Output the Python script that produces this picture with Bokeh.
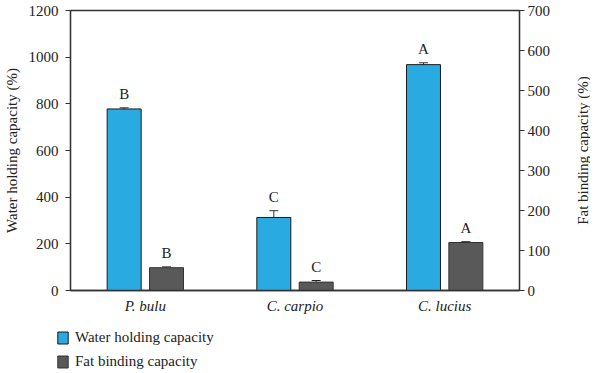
import math
from bokeh.plotting import figure
from bokeh.layouts import column, row
from bokeh.models import (ColumnDataSource, Range1d, LinearAxis, Whisker, TeeHead,
                          Legend, LegendItem, FactorRange, LabelSet)
from bokeh.transform import dodge
from bokeh.core.properties import value
from bokeh.embed import file_html
from bokeh.resources import INLINE

species = ["P. bulu", "C. carpio", "C. lucius"]
water = [778, 313, 968]
water_err = [5, 29, 8]
water_letters = ["B", "C", "A"]
fat = [57, 21, 120]
fat_err = [2, 4, 2]
fat_letters = ["B", "C", "A"]
series_names = ["Water holding capacity", "Fat binding capacity"]
left_title = "Water holding capacity (%)"
right_title = "Fat binding capacity (%)"

BLUE = "#29ABE2"
GREY = "#595959"
FONT = "Liberation Serif"

src = ColumnDataSource(dict(
    cat=species, water=water, water_hi=[w + e for w, e in zip(water, water_err)],
    fat=fat, fat_hi=[f + e for f, e in zip(fat, fat_err)],
    wl=water_letters, fl=fat_letters,
))

p = figure(x_range=FactorRange(*species, range_padding=0), y_range=Range1d(0, 1200),
           width=574, height=318, output_backend="svg", toolbar_location=None,
           min_border_left=58, min_border_right=55, min_border_top=10, min_border_bottom=28)
p.extra_y_ranges = {"fat": Range1d(0, 700)}

off = 0.1415
bw = 0.227
r1 = p.vbar(x=dodge("cat", -off, range=p.x_range), top="water", width=bw, source=src,
            fill_color=BLUE, line_color="#1a1a1a", line_width=1)
r2 = p.vbar(x=dodge("cat", off, range=p.x_range), top="fat", width=bw, source=src,
            fill_color=GREY, line_color="#333333", line_width=1, y_range_name="fat")

w1 = Whisker(base=dodge("cat", -off, range=p.x_range), lower="water", upper="water_hi",
             source=src, lower_head=None, line_color="#333333", line_width=1,
             upper_head=TeeHead(size=9, line_color="#333333", line_width=1))
w2 = Whisker(base=dodge("cat", off, range=p.x_range), lower="fat", upper="fat_hi",
             source=src, lower_head=None, line_color="#222222", line_width=1,
             upper_head=TeeHead(size=9, line_color="#222222", line_width=1),
             y_range_name="fat")
p.add_layout(w1)
p.add_layout(w2)

l1 = LabelSet(x=dodge("cat", -off, range=p.x_range), y="water_hi", text="wl", source=src,
              text_align="center", text_baseline="bottom", y_offset=6,
              text_font=FONT, text_font_size="15px", text_color="#222222")
l2 = LabelSet(x=dodge("cat", off, range=p.x_range), y="fat_hi", text="fl", source=src,
              text_align="center", text_baseline="bottom", y_offset=6,
              text_font=FONT, text_font_size="15px", text_color="#222222",
              y_range_name="fat")
p.add_layout(l1)
p.add_layout(l2)

p.yaxis.axis_label = left_title
p.yaxis.ticker = [0, 200, 400, 600, 800, 1000, 1200]
ax_r = LinearAxis(y_range_name="fat", ticker=[0, 100, 200, 300, 400, 500, 600, 700])
p.add_layout(ax_r, "right")

for ax in p.yaxis + p.xaxis:
    ax.axis_line_color = "#333333"
    ax.axis_line_width = 1.3
    ax.major_tick_line_color = "#333333"
    ax.major_tick_out = 5
    ax.major_tick_in = 0
    ax.minor_tick_line_color = None
    ax.major_label_text_font = FONT
    ax.major_label_text_font_size = "15px"
    ax.major_label_text_color = "#222222"
    ax.axis_label_text_font = FONT
    ax.axis_label_text_font_size = "15px"
    ax.axis_label_text_font_style = "normal"
    ax.axis_label_text_color = "#222222"

p.yaxis[0].axis_label_standoff = 6
p.yaxis[0].major_label_standoff = 7
ax_r.major_label_standoff = 3
p.xaxis.major_tick_line_color = None
p.xaxis.major_tick_out = 0
p.xaxis.major_label_text_font_style = "italic"
p.xaxis.major_label_standoff = 7

p.xgrid.grid_line_color = None
p.ygrid.grid_line_color = None
p.outline_line_color = "#333333"
p.outline_line_width = 1.3

# right-hand axis title, read bottom-to-top, in a narrow strip beside the chart
side = figure(width=16, height=318, output_backend="svg", toolbar_location=None,
              x_range=Range1d(0, 1), y_range=p.y_range,
              x_axis_location=None, y_axis_location=None,
              min_border_left=0, min_border_right=0, min_border_top=10, min_border_bottom=28)
side.outline_line_color = None
side.xgrid.grid_line_color = None
side.ygrid.grid_line_color = None
mid = (p.y_range.start + p.y_range.end) / 2
side.text(x=[0.5], y=[mid], text=[right_title], angle=math.pi / 2,
          text_align="center", text_baseline="middle",
          text_font=value(FONT), text_font_size="15px", text_color="#222222")

# legend strip below the chart
leg = figure(width=590, height=55, output_backend="svg", toolbar_location=None,
             x_range=Range1d(0, 1), y_range=Range1d(0, 1),
             x_axis_location=None, y_axis_location=None,
             min_border_left=56, min_border_right=0, min_border_top=11, min_border_bottom=0)
leg.outline_line_color = None
leg.xgrid.grid_line_color = None
leg.ygrid.grid_line_color = None
swatch = ColumnDataSource(dict(x=[0.5], y=[0.5]))
g1 = leg.rect(x="x", y="y", width=0, height=0, source=swatch,
              fill_color=BLUE, line_color="#1a1a1a", line_width=1)
g2 = leg.rect(x="x", y="y", width=0, height=0, source=swatch,
              fill_color=GREY, line_color="#333333", line_width=1)
legend = Legend(items=[LegendItem(label=series_names[0], renderers=[g1]),
                       LegendItem(label=series_names[1], renderers=[g2])],
                location="top_left", orientation="vertical",
                glyph_width=13, glyph_height=15, label_standoff=6, spacing=7,
                padding=0, margin=0, border_line_color=None, background_fill_alpha=0,
                label_text_font=FONT, label_text_font_size="15px", label_text_color="#222222")
leg.add_layout(legend, "center")

layout = column(row(p, side, spacing=0), leg, spacing=0)
open("out.html", "w").write(file_html(layout, INLINE))
